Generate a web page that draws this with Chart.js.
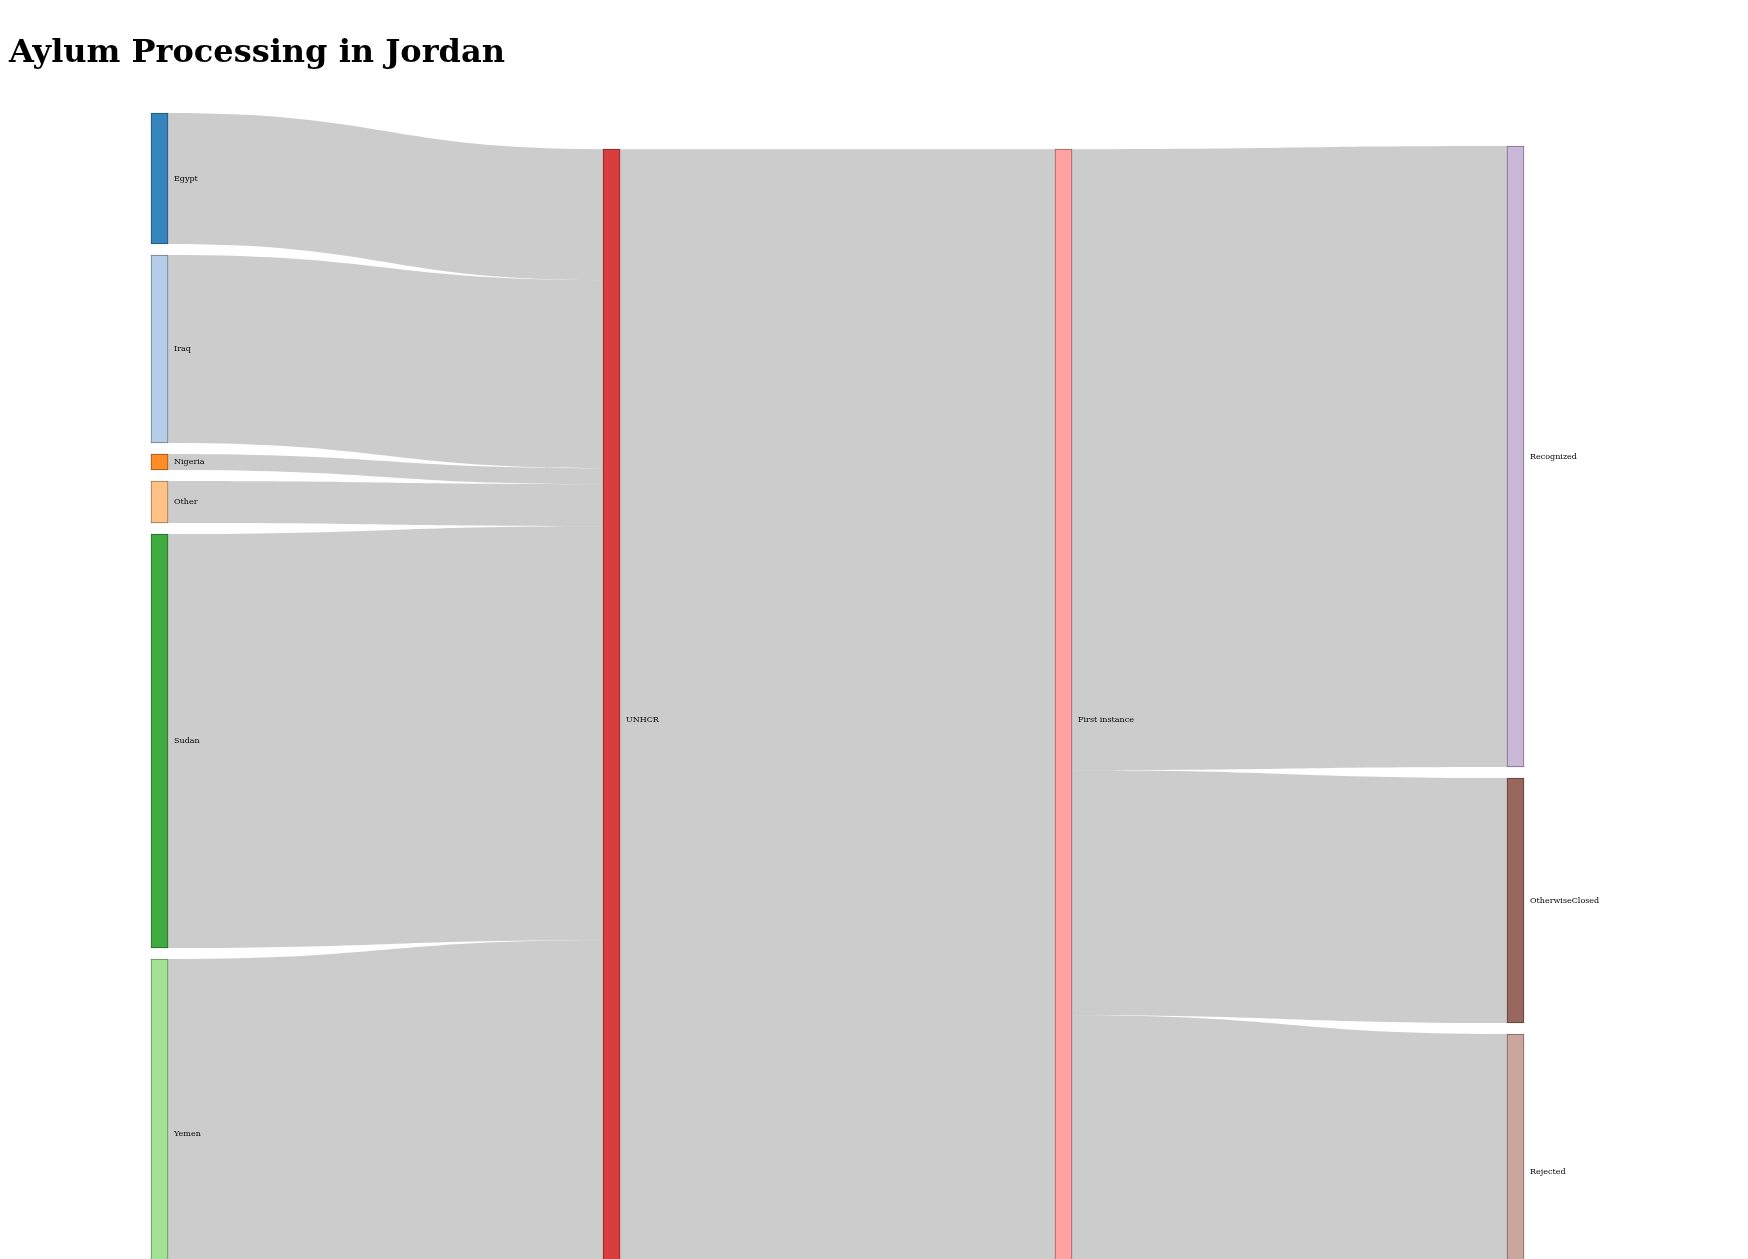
<!DOCTYPE html>
<html>
<head>
<meta charset="utf-8">
<script src="https://cdn.jsdelivr.net/npm/chart.js@4.4.1/dist/chart.umd.min.js"></script>
<style>
html,body{margin:0;padding:0;background:#ffffff;}
#wrap{width:1748px;height:1259px;position:relative;}
</style>
</head>
<body>
<div id="wrap"><canvas id="c"></canvas></div>
<script>
// ---------------- data ----------------
const TITLE = 'Aylum Processing in Jordan';
const origins = ['Egypt', 'Iraq', 'Nigeria', 'Other', 'Sudan', 'Yemen'];
const originValues = [131, 188, 16, 42, 414, 350];
const authorityNode = 'UNHCR';
const stageNode = 'First instance';
const outcomes = ['Recognized', 'OtherwiseClosed', 'Rejected'];
const outcomeValues = [621, 245, 275];

// ---------------- styles ----------------
const originColors = ['#3585bc', '#b6cdea', '#ff8c26', '#ffc286', '#41aa41', '#a2e296'];
const authorityColor = '#da3d3e';
const stageColor = '#ffa2a1';
const outcomeColors = ['#cbb8d9', '#98675d', '#caa69f'];
const NODE_PAD = 11;        // gap between nodes (value units, 1 unit = 1 px)
const NODE_WIDTH = 17;      // px
const LINK_COLOR = 'rgba(0,0,0,0.2)';
const Y_RANGE = 1146;

// ---------------- build nodes & links ----------------
const nodes = [];
origins.forEach((n, i) => nodes.push({name: n, col: 0, color: originColors[i]}));
nodes.push({name: authorityNode, col: 1, color: authorityColor});
nodes.push({name: stageNode, col: 2, color: stageColor});
outcomes.forEach((n, i) => nodes.push({name: n, col: 3, color: outcomeColors[i]}));
const idx = name => nodes.findIndex(n => n.name === name);

const links = [];
origins.forEach((n, i) => links.push({s: idx(n), t: idx(authorityNode), v: originValues[i]}));
const authTotal = originValues.reduce((a, b) => a + b, 0);
links.push({s: idx(authorityNode), t: idx(stageNode), v: authTotal});
outcomes.forEach((n, i) => links.push({s: idx(stageNode), t: idx(n), v: outcomeValues[i]}));

// ---------------- layout ----------------
(function layout() {
  nodes.forEach((n, i) => {
    const inV = links.filter(l => l.t === i).reduce((a, l) => a + l.v, 0);
    const outV = links.filter(l => l.s === i).reduce((a, l) => a + l.v, 0);
    n.value = Math.max(inV, outV);
  });
  const nCols = Math.max(...nodes.map(n => n.col)) + 1;
  const cols = [];
  for (let c = 0; c < nCols; c++) cols.push(nodes.filter(n => n.col === c));
  const extent = Math.max(...cols.map(col =>
    col.reduce((a, n) => a + n.value, 0) + (col.length - 1) * NODE_PAD));
  let y = 0;
  cols[0].forEach(n => { n.y0 = y; n.y1 = y + n.value; y = n.y1 + NODE_PAD; });
  for (let c = 1; c < nCols; c++) {
    cols[c].forEach(n => {
      const ni = nodes.indexOf(n);
      const inc = links.filter(l => l.t === ni).sort((a, b) => nodes[a.s].y0 - nodes[b.s].y0);
      let tOff = 0, sum = 0, w = 0;
      inc.forEach(l => {
        const src = nodes[l.s];
        let sOff = 0;
        for (const o of links) { if (o === l) break; if (o.s === l.s) sOff += o.v; }
        sum += (src.y0 + sOff - tOff) * l.v; w += l.v; tOff += l.v;
      });
      n.ideal = w ? sum / w : 0;
    });
    let prev = 0;
    cols[c].forEach(n => {
      n.y0 = Math.max(n.ideal, prev); n.y1 = n.y0 + n.value; prev = n.y1 + NODE_PAD;
    });
    let limit = extent;
    for (let k = cols[c].length - 1; k >= 0; k--) {
      const n = cols[c][k];
      if (n.y1 > limit) { n.y0 -= (n.y1 - limit); n.y1 = limit; }
      limit = n.y0 - NODE_PAD;
    }
  }
  nodes.forEach((n, i) => {
    let so = n.y0;
    links.filter(l => l.s === i).sort((a, b) => nodes[a.t].y0 - nodes[b.t].y0)
      .forEach(l => { l.sy0 = so; l.sy1 = so + l.v; so += l.v; });
    let to = n.y0;
    links.filter(l => l.t === i).sort((a, b) => nodes[a.s].y0 - nodes[b.s].y0)
      .forEach(l => { l.ty0 = to; l.ty1 = to + l.v; to += l.v; });
  });
})();

function darken(hex, f) {
  const v = parseInt(hex.slice(1), 16);
  const r = Math.round(((v >> 16) & 255) * f), g = Math.round(((v >> 8) & 255) * f), b = Math.round((v & 255) * f);
  return `rgb(${r},${g},${b})`;
}

const sankeyPlugin = {
  id: 'sankeyLinks',
  beforeDatasetsDraw(chart) {
    const {ctx, scales: {x, y}} = chart;
    ctx.save();
    ctx.fillStyle = LINK_COLOR;
    links.forEach(l => {
      const x0 = x.getPixelForValue(nodes[l.s].col) + NODE_WIDTH / 2;
      const x1 = x.getPixelForValue(nodes[l.t].col) - NODE_WIDTH / 2;
      const xm = (x0 + x1) / 2;
      const a0 = y.getPixelForValue(l.sy0), a1 = y.getPixelForValue(l.sy1);
      const b0 = y.getPixelForValue(l.ty0), b1 = y.getPixelForValue(l.ty1);
      ctx.beginPath();
      ctx.moveTo(x0, a0);
      ctx.bezierCurveTo(xm, a0, xm, b0, x1, b0);
      ctx.lineTo(x1, b1);
      ctx.bezierCurveTo(xm, b1, xm, a1, x0, a1);
      ctx.closePath();
      ctx.fill();
    });
    ctx.restore();
  },
  afterDatasetsDraw(chart) {
    const {ctx, scales: {x, y}} = chart;
    ctx.save();
    ctx.font = '8px "DejaVu Serif"';
    ctx.fillStyle = '#000000';
    ctx.textBaseline = 'middle';
    ctx.textAlign = 'left';
    nodes.forEach(n => {
      const px = x.getPixelForValue(n.col) + NODE_WIDTH / 2 + 6;
      const py = y.getPixelForValue((n.y0 + n.y1) / 2);
      ctx.fillText(n.name, px, py);
    });
    ctx.restore();
  }
};

new Chart(document.getElementById('c'), {
  type: 'bar',
  data: {
    datasets: [{
      data: nodes.map(n => ({x: n.col, y: [n.y0, n.y1]})),
      backgroundColor: nodes.map(n => n.color),
      borderColor: nodes.map(n => darken(n.color, 0.6)),
      borderWidth: 1,
      borderSkipped: false,
      barThickness: NODE_WIDTH,
      grouped: false,
      clip: false
    }]
  },
  options: {
    responsive: true,
    maintainAspectRatio: false,
    animation: false,
    events: [],
    layout: {padding: {left: 9, right: 232.5, top: 0, bottom: 0}},
    plugins: {
      legend: {display: false},
      tooltip: {enabled: false},
      title: {
        display: true, text: TITLE, align: 'start', color: '#000000',
        font: {family: 'DejaVu Serif', size: 32, weight: 'bold', lineHeight: 1.2},
        padding: {top: 34.5, bottom: 40.1}
      }
    },
    scales: {
      x: {type: 'linear', min: 0, max: 3, display: false, offset: false},
      y: {
        type: 'linear', min: 0, max: Y_RANGE, reverse: true, display: true,
        ticks: {display: false}, grid: {display: false}, border: {display: false},
        afterFit(s) { s.width = 150.5; }
      }
    }
  },
  plugins: [sankeyPlugin]
});
</script>
</body>
</html>
